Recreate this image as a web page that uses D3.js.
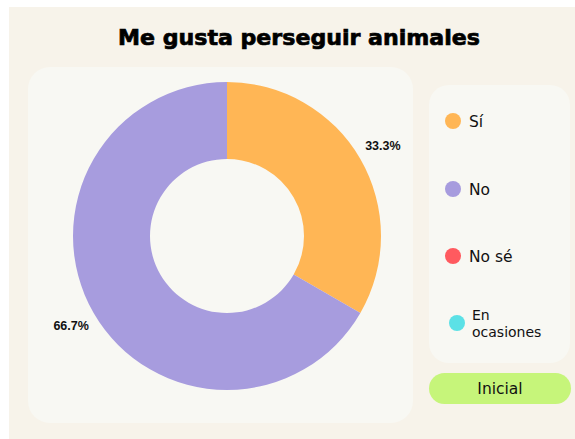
<!DOCTYPE html>
<html><head><meta charset="utf-8">
<script src="https://cdn.jsdelivr.net/npm/d3@7"></script>
<style>html,body{margin:0;padding:0;background:#fff;}svg{display:block;}</style>
</head><body>
<script>
const categories = ["Sí", "No", "No sé", "En ocasiones"];
const values = [1, 2, 0, 0];
const colors = ["#FFB655", "#A79CDE", "#FF5A5F", "#5CE1E6"];
const title = "Me gusta perseguir animales";
const buttonLabel = "Inicial";

const W = 575, H = 439;
const svg = d3.select("body").append("svg").attr("width", W).attr("height", H);

svg.append("rect").attr("x", 9).attr("y", 7).attr("width", W - 9).attr("height", H - 7).attr("fill", "#F7F3EA");

svg.append("text").attr("x", 118).attr("y", 45)
  .attr("font-family", "'DejaVu Sans', sans-serif").attr("font-weight", "bold")
  .attr("font-size", 21).attr("fill", "#000")
  .attr("textLength", 362).attr("lengthAdjust", "spacingAndGlyphs")
  .style("stroke", "#000").style("stroke-width", 0.7)
  .text(title);

// main panel
svg.append("rect").attr("x", 28).attr("y", 67).attr("width", 385).attr("height", 356)
  .attr("rx", 22).attr("fill", "#F8F8F3");

// legend panel
svg.append("rect").attr("x", 429).attr("y", 85).attr("width", 141).attr("height", 278)
  .attr("rx", 20).attr("fill", "#F8F8F3");

const cx = 227, cy = 236, rOut = 154, rIn = 77;
const total = d3.sum(values);
const pie = d3.pie().sort(null).value(d => d.v);
const data = pie(categories.map((c, i) => ({c, v: values[i], col: colors[i]})));
const arc = d3.arc().innerRadius(rIn).outerRadius(rOut);
const g = svg.append("g").attr("transform", `translate(${cx},${cy})`);
g.selectAll("path").data(data.filter(d => d.data.v > 0)).join("path")
  .attr("d", arc).attr("fill", d => d.data.col);

const labelArc = d3.arc().innerRadius(180).outerRadius(180);
g.selectAll("text.lbl").data(data.filter(d => d.data.v > 0)).join("text")
  .attr("class", "lbl")
  .attr("transform", d => {
    const [x, y] = labelArc.centroid(d);
    return `translate(${x},${y})`;
  })
  .attr("text-anchor", "middle").attr("dominant-baseline", "central")
  .attr("font-family", "'Liberation Sans', Arial, sans-serif").attr("font-weight", "bold")
  .attr("font-size", 12.5).attr("fill", "#111")
  .text(d => (d.data.v / total * 100).toFixed(1) + "%");

// legend
const legY = [121, 189, 256, 323];
const lg = svg.append("g");
categories.forEach((c, i) => {
  const dx = i === 3 ? 457 : 453;
  lg.append("circle").attr("cx", dx).attr("cy", legY[i]).attr("r", 8).attr("fill", colors[i]);
  if (i === 3) {
    const parts = c.split(" ");
    parts.forEach((p, j) => {
      lg.append("text").attr("x", 472).attr("y", legY[i] - 3 + j * 16.5)
        .attr("font-family", "'DejaVu Sans', sans-serif")
        .attr("font-size", 14).attr("fill", "#111").text(p);
    });
  } else {
    lg.append("text").attr("x", 469).attr("y", legY[i] + 6)
      .attr("font-family", "'DejaVu Sans', sans-serif")
      .attr("font-size", 15.5).attr("fill", "#111").text(c);
  }
});

// button
svg.append("rect").attr("x", 429).attr("y", 373).attr("width", 142).attr("height", 31)
  .attr("rx", 15.5).attr("fill", "#C6F57A");
svg.append("text").attr("x", 500).attr("y", 394).attr("text-anchor", "middle")
  .attr("font-family", "'DejaVu Sans', sans-serif")
  .attr("font-size", 15.5).attr("fill", "#111").text(buttonLabel);
</script>
</body></html>
